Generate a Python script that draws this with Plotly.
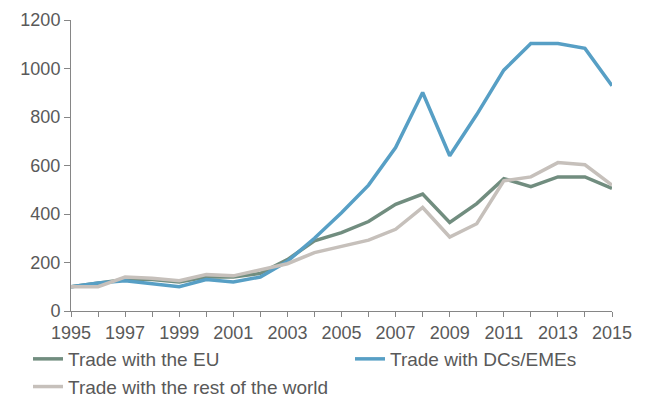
import plotly.graph_objects as go

years = list(range(1995, 2016))
trade_eu = [100, 115, 130, 130, 120, 140, 140, 155, 212, 289, 323, 369, 440, 482, 365, 443,
            546, 513, 553, 553, 506]
trade_dcs = [100, 115, 125, 112, 100, 130, 120, 140, 205, 300, 405, 519, 674, 901, 640, 810,
             993, 1103, 1103, 1083, 929]
trade_rest = [100, 100, 140, 135, 125, 150, 145, 170, 195, 241, 265, 292, 337, 427, 305, 360,
              537, 553, 612, 603, 519]

# (name, values, colour, legend group box)
series = [
    ("Trade with the EU", trade_eu, "#718d7f", "legend"),
    ("Trade with DCs/EMEs", trade_dcs, "#579fc5", "legend2"),
    ("Trade with the rest of the world", trade_rest, "#c6c0bb", "legend"),
]

fig = go.Figure()
for name, vals, color, leg in series:
    fig.add_trace(go.Scatter(
        x=years, y=vals, name=name, mode="lines",
        line=dict(color=color, width=3.5),
        legend=leg,
    ))

axis_color = "#868686"
text_color = "#595959"
legend_top = 1 - 340 / 399
legend_font = dict(size=19, color=text_color)

fig.update_layout(
    width=645, height=399,
    margin=dict(l=71, r=33, t=20, b=88, autoexpand=False),
    plot_bgcolor="white", paper_bgcolor="white",
    font=dict(family="Liberation Sans, Arial, sans-serif", size=18, color=text_color),
    showlegend=True,
    legend=dict(
        orientation="v",
        xref="container", x=28 / 645, xanchor="left",
        yref="container", y=legend_top, yanchor="top",
        font=legend_font, tracegroupgap=0, traceorder="normal",
    ),
    legend2=dict(
        orientation="v",
        xref="container", x=350 / 645, xanchor="left",
        yref="container", y=legend_top, yanchor="top",
        font=legend_font,
    ),
    xaxis=dict(
        range=[1995, 2015], tickmode="array",
        tickvals=years, ticktext=[str(y) if (y - 1995) % 2 == 0 else "" for y in years],
        showgrid=False, zeroline=False,
        showline=True, linecolor=axis_color, linewidth=1,
        ticks="outside", ticklen=5, tickcolor=axis_color,
        tickfont=dict(size=18, color=text_color),
    ),
    yaxis=dict(
        range=[0, 1200], tickvals=[0, 200, 400, 600, 800, 1000, 1200],
        showgrid=False, zeroline=False,
        showline=True, linecolor=axis_color, linewidth=1,
        ticks="outside", ticklen=6, tickcolor=axis_color,
        tickfont=dict(size=18, color=text_color),
    ),
)

fig.write_html("out.html")
